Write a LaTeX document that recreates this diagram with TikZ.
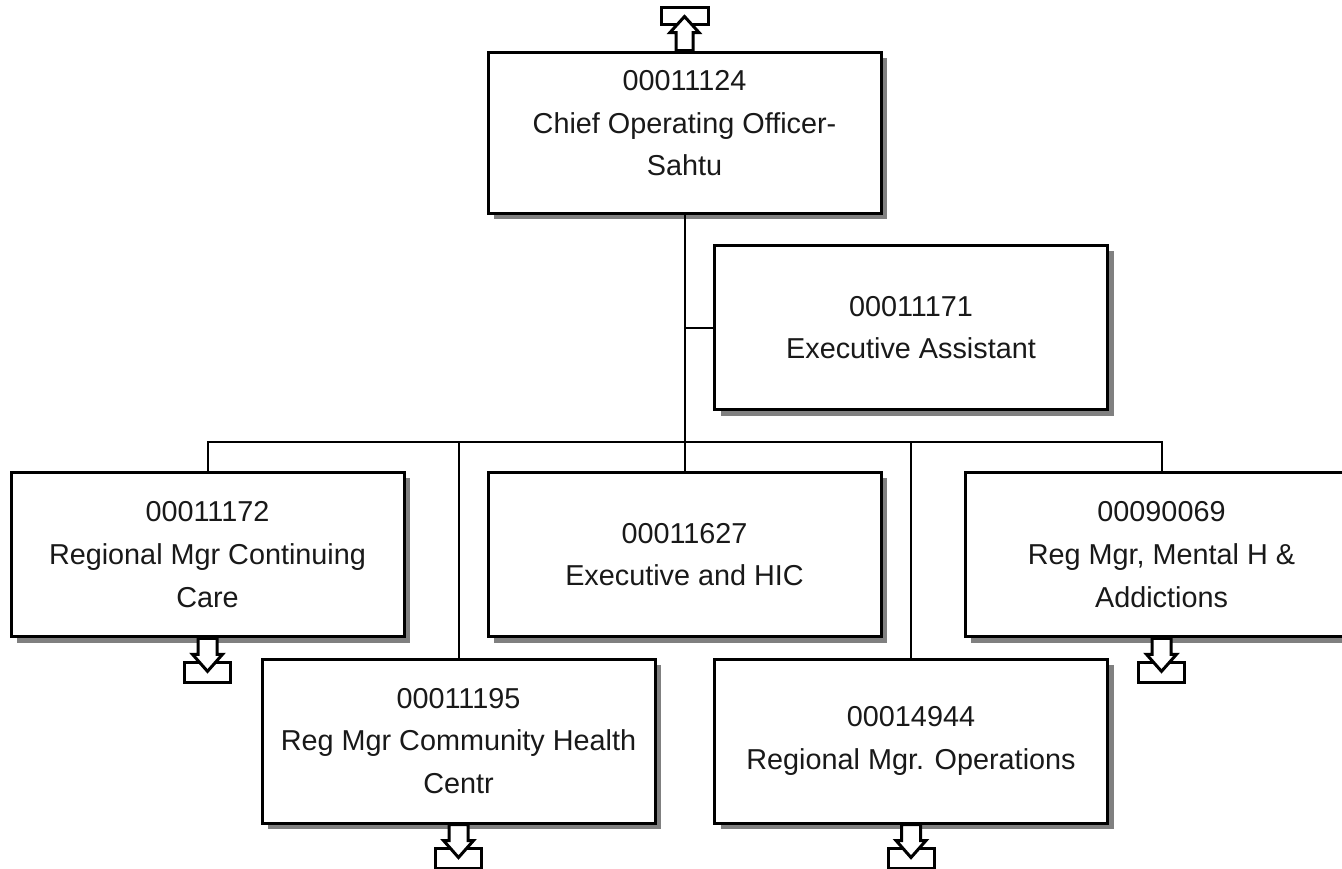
\documentclass[tikz,border=0pt]{standalone}
\usepackage{fontspec}
\setmainfont{Liberation Sans}
\usetikzlibrary{shadows,calc}
\definecolor{shadowgray}{RGB}{128,128,128}
\definecolor{textgray}{RGB}{25,25,25}
\begin{document}
\begin{tikzpicture}[x=0.75pt,y=-0.75pt,
  posbox/.style={draw=black, line width=2.25pt, fill=white,
    minimum width=294.75pt, minimum height=123.5pt, align=center,
    inner sep=0pt, text=textgray, font=\fontsize{21.6}{32}\selectfont,
    drop shadow={shadow xshift=4.5pt, shadow yshift=-4.5pt, fill=shadowgray, opacity=1}},
  link/.style={line width=1.5pt, draw=black},
  icon/.style={line width=2.25pt, fill=white, draw=black, line join=miter},
  downicon/.pic={
    \draw[icon] (-23,24) rectangle (23,44);
    \draw[icon] (-9.5,0) -- (-9.5,16) -- (-15,16) -- (0,33) -- (15,16) -- (9.5,16) -- (9.5,0) -- cycle;
  },
  upicon/.pic={
    \draw[icon] (-23,-43) rectangle (24,-26);
    \draw[icon] (-8.5,0) -- (-8.5,-18) -- (-14.5,-18) -- (0,-34) -- (14.5,-18) -- (8.5,-18) -- (8.5,0) -- cycle;
  }
]
\useasboundingbox (0,0) rectangle (1342,868);
\fill[white] (0,0) rectangle (1342,868);

\coordinate (bus) at (684.5,442);

% position boxes
\node[posbox, minimum height=120.75pt, text depth=14pt] (top) at (684.5,132.5) {00011124\\Chief Operating Officer-\\Sahtu};
\node[posbox] (ea) at (911,327.5) {00011171\\Executive Assistant};
\node[posbox] (a) at (207.5,554.5) {00011172\\Regional Mgr Continuing\\Care};
\node[posbox] (c) at (684.5,554.5) {00011627\\Executive and HIC};
\node[posbox] (e) at (1161.5,554.5) {00090069\\Reg Mgr, Mental H \&\\Addictions};
\node[posbox, minimum height=123pt] (b) at (458.5,741) {00011195\\Reg Mgr Community Health\\Centr};
\node[posbox, minimum height=123pt] (d) at (911,741) {00014944\\Regional Mgr. Operations};

% connectors
\draw[link] (top.south) -- (bus);
\draw[link] (ea.west) -- (ea.west -| bus);
\draw[link] (a.north) -- (a.north |- bus) -- (e.north |- bus) -- (e.north);
\draw[link] (bus) -- (c.north);
\draw[link] (b.north) -- (b.north |- bus);
\draw[link] (d.north) -- (d.north |- bus);

% drill icons
\pic at (top.north) {upicon};
\pic at (a.south) {downicon};
\pic at (b.south) {downicon};
\pic at (d.south) {downicon};
\pic at (e.south) {downicon};
\end{tikzpicture}
\end{document}
